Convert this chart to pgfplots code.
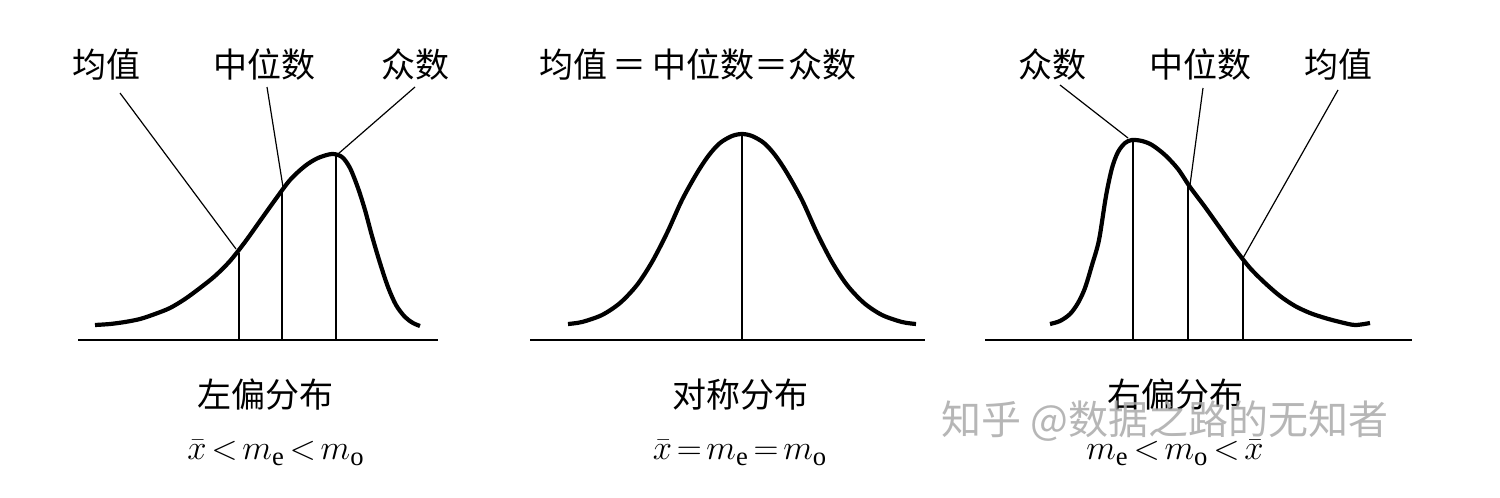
\documentclass[border=0pt]{standalone}
\usepackage{pgfplots}
\pgfplotsset{compat=1.18}
\usepackage{fontspec}
\setmainfont{Liberation Serif}
\newfontfamily\cjk{Noto Sans CJK SC}
\newcommand\fm{\fontsize{19}{22}\selectfont\thickmuskip=2.5mu plus 1mu}
\begin{document}
\begin{tikzpicture}
\begin{axis}[hide axis, scale only axis, x=0.5pt, y=0.5pt,
  xmin=0, xmax=1500, ymin=0, ymax=498, y dir=reverse, clip=false]
\path[fill=white] (axis cs:0,0) rectangle (axis cs:1500,498);
% ---------- left-skewed ----------
\addplot[line width=0.8pt] coordinates {(78,340) (438,340)};
\addplot[smooth, line width=2.1pt] coordinates {
 (95,325) (110,324) (125,322) (140,319) (155,314) (170,308) (185,299) (200,288)
 (215,276) (230,261) (245,242) (260,221) (275,200) (290,180) (305,166) (318,158)
 (332,154) (342,157) (350,168) (358,188) (365,210) (372,236) (380,263) (388,287)
 (396,305) (405,317) (413,323) (420,326)};
\addplot[line width=0.8pt] coordinates {(239,253) (239,340)};
\addplot[line width=0.8pt] coordinates {(282,190) (282,340)};
\addplot[line width=0.8pt] coordinates {(336,155) (336,340)};
\addplot[line width=0.6pt] coordinates {(120,93) (236,249)};
\addplot[line width=0.6pt] coordinates {(267,87) (283,187)};
\addplot[line width=0.6pt] coordinates {(415,87) (338,154)};
\node[font=\cjk\fontsize{17}{20}\selectfont] at (axis cs:106,65) {均值};
\node[font=\cjk\fontsize{17}{20}\selectfont] at (axis cs:264,65) {中位数};
\node[font=\cjk\fontsize{17}{20}\selectfont] at (axis cs:415,65) {众数};
\node[font=\cjk\fontsize{17}{20}\selectfont] at (axis cs:265,395) {左偏分布};
\node[font=\fm] at (axis cs:276,453) {$\bar{x}<m_{\mathrm{e}}<m_{\mathrm{o}}$};
% ---------- symmetric ----------
\addplot[line width=0.8pt] coordinates {(530,340) (925,340)};
\addplot[smooth, line width=2.1pt] coordinates {
 (568,324) (582,322) (602,315) (620,303) (637,285) (652,262) (667,233) (682,200)
 (697,173) (709,155) (720,143) (732,136) (742,134) (752,136) (764,143) (775,155)
 (787,173) (802,200) (817,233) (832,262) (847,285) (864,303) (882,315) (902,322) (916,324)};
\addplot[line width=0.8pt] coordinates {(742,135) (742,340)};
\node[font=\cjk\fontsize{17}{20}\selectfont] at (axis cs:698,65) {均值\,＝\,中位数＝众数};
\node[font=\cjk\fontsize{17}{20}\selectfont] at (axis cs:740,395) {对称分布};
\node[font=\fm] at (axis cs:740,453) {$\bar{x}=m_{\mathrm{e}}=m_{\mathrm{o}}$};
% ---------- right-skewed ----------
\addplot[line width=0.8pt] coordinates {(985,340) (1412,340)};
\addplot[smooth, line width=2.1pt] coordinates {
 (1050,324) (1060,321) (1070,314) (1078,303) (1085,288) (1092,265) (1099,240)
 (1106,196) (1112,168) (1118,152) (1125,143) (1132,140) (1142,141) (1152,145)
 (1165,155) (1178,169) (1190,187) (1205,207) (1220,228) (1235,249) (1250,268)
 (1265,283) (1280,296) (1295,306) (1310,313) (1325,318) (1340,322) (1355,325) (1370,323)};
\addplot[line width=0.8pt] coordinates {(1133,141) (1133,340)};
\addplot[line width=0.8pt] coordinates {(1188,185) (1188,340)};
\addplot[line width=0.8pt] coordinates {(1243,260) (1243,340)};
\addplot[line width=0.6pt] coordinates {(1060,85) (1128,138)};
\addplot[line width=0.6pt] coordinates {(1203,88) (1190,185)};
\addplot[line width=0.6pt] coordinates {(1338,90) (1243,258)};
\node[font=\cjk\fontsize{17}{20}\selectfont] at (axis cs:1052,65) {众数};
\node[font=\cjk\fontsize{17}{20}\selectfont] at (axis cs:1200,65) {中位数};
\node[font=\cjk\fontsize{17}{20}\selectfont] at (axis cs:1338,65) {均值};
\node[font=\cjk\fontsize{17}{20}\selectfont] at (axis cs:1175,395) {右偏分布};
\node[font=\fm] at (axis cs:1175,453) {$m_{\mathrm{e}}<m_{\mathrm{o}}<\bar{x}$};
% ---------- watermark ----------
\node[font=\cjk\fontsize{20}{24}\selectfont, text={rgb,255:red,170;green,170;blue,170}, opacity=0.85]
  at (axis cs:1165,421) {知乎 @数据之路的无知者};
\end{axis}
\end{tikzpicture}
\end{document}
